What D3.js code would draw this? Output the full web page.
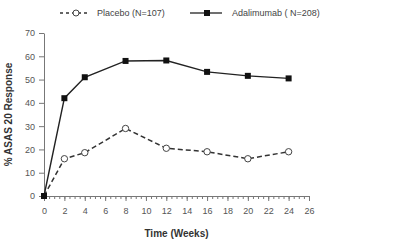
<!DOCTYPE html>
<html lang="en">
<head>
  <meta charset="UTF-8">
  <title>ASAS 20 Response</title>
  <style>
    body { margin: 0; padding: 0; background: #fff; font-family: "Liberation Sans", Arial, sans-serif; }
    #chart { width: 400px; height: 252px; }
    .axis text { fill: #555; font-size: 9px; }
    .axis path, .axis line { stroke: #777; }
  </style>
</head>
<body>
<div id="chart"></div>
<script src="https://d3js.org/d3.v7.min.js"></script>
<script>
  // Data
  const weeks = [0, 2, 4, 8, 12, 16, 20, 24];
  const placebo = [0, 16, 18.6, 29, 20.5, 19, 16, 19];
  const adalimumab = [0, 42, 51, 58, 58.2, 53.3, 51.6, 50.5];
  const xTicks = d3.range(0, 27, 2);
  const yTicks = d3.range(0, 71, 10);

  const width = 400, height = 252;
  const margin = { left: 44, right: 91, top: 33, bottom: 56 };

  const svg = d3.select("#chart").append("svg")
      .attr("width", width)
      .attr("height", height);

  const x = d3.scaleLinear().domain([0, 26]).range([margin.left, width - margin.right]);
  const y = d3.scaleLinear().domain([0, 70]).range([height - margin.bottom, margin.top]);

  // x axis with minor ticks every half week
  svg.append("g")
      .attr("class", "axis")
      .attr("transform", `translate(0,${y(0)})`)
      .call(d3.axisBottom(x).tickValues(d3.range(0, 26.01, 0.5)).tickSize(3).tickFormat(""))
      .call(g => g.select(".domain").remove());

  svg.append("g")
      .attr("class", "axis")
      .attr("transform", `translate(0,${y(0)})`)
      .call(d3.axisBottom(x).tickValues(xTicks).tickSize(5).tickSizeOuter(0).tickPadding(5))
      .call(g => g.selectAll("text").attr("dy", "0.9em"));

  svg.append("g")
      .attr("class", "axis")
      .attr("transform", `translate(${x(0)},0)`)
      .call(d3.axisLeft(y).tickValues(yTicks).tickSize(5).tickSizeOuter(0).tickPadding(4));

  // axis titles
  svg.append("text")
      .attr("x", x(13))
      .attr("y", 237)
      .attr("text-anchor", "middle")
      .attr("font-size", 10)
      .attr("font-weight", "bold")
      .attr("fill", "#333")
      .text("Time (Weeks)");

  svg.append("text")
      .attr("transform", `translate(12,${y(35)}) rotate(-90)`)
      .attr("text-anchor", "middle")
      .attr("font-size", 10)
      .attr("font-weight", "bold")
      .attr("fill", "#333")
      .text("% ASAS 20 Response");

  const line = d3.line()
      .x((d, i) => x(weeks[i]))
      .y(d => y(d));

  svg.append("path")
      .datum(placebo)
      .attr("fill", "none")
      .attr("stroke", "#333")
      .attr("stroke-width", 1.5)
      .attr("stroke-dasharray", "5,3")
      .attr("d", line);

  svg.append("path")
      .datum(adalimumab)
      .attr("fill", "none")
      .attr("stroke", "#222")
      .attr("stroke-width", 1.4)
      .attr("d", line);

  svg.selectAll("circle.pl")
      .data(placebo.slice(1))
      .enter()
      .append("circle")
      .attr("class", "pl")
      .attr("cx", (d, i) => x(weeks[i + 1]))
      .attr("cy", d => y(d))
      .attr("r", 3.2)
      .attr("fill", "#fff")
      .attr("stroke", "#444")
      .attr("stroke-width", 1);

  svg.selectAll("rect.ad")
      .data(adalimumab)
      .enter()
      .append("rect")
      .attr("class", "ad")
      .attr("x", (d, i) => x(weeks[i]) - 3)
      .attr("y", d => y(d) - 3)
      .attr("width", 6)
      .attr("height", 6)
      .attr("fill", "#111");

  // legend
  const legY = 13;
  svg.append("line")
      .attr("x1", 60).attr("x2", 90).attr("y1", legY).attr("y2", legY)
      .attr("stroke", "#333").attr("stroke-width", 1.3).attr("stroke-dasharray", "3,3");
  svg.append("circle")
      .attr("cx", 76).attr("cy", legY).attr("r", 3)
      .attr("fill", "#fff").attr("stroke", "#444");
  svg.append("text")
      .attr("x", 97).attr("y", legY + 3)
      .attr("font-size", 9).attr("fill", "#444")
      .text("Placebo (N=107)");

  svg.append("line")
      .attr("x1", 190).attr("x2", 222).attr("y1", legY).attr("y2", legY)
      .attr("stroke", "#222").attr("stroke-width", 1.3);
  svg.append("rect")
      .attr("x", 204).attr("y", legY - 3).attr("width", 6).attr("height", 6)
      .attr("fill", "#111");
  svg.append("text")
      .attr("x", 232).attr("y", legY + 3)
      .attr("font-size", 9).attr("fill", "#444")
      .text("Adalimumab ( N=208)");
</script>
</body>
</html>
